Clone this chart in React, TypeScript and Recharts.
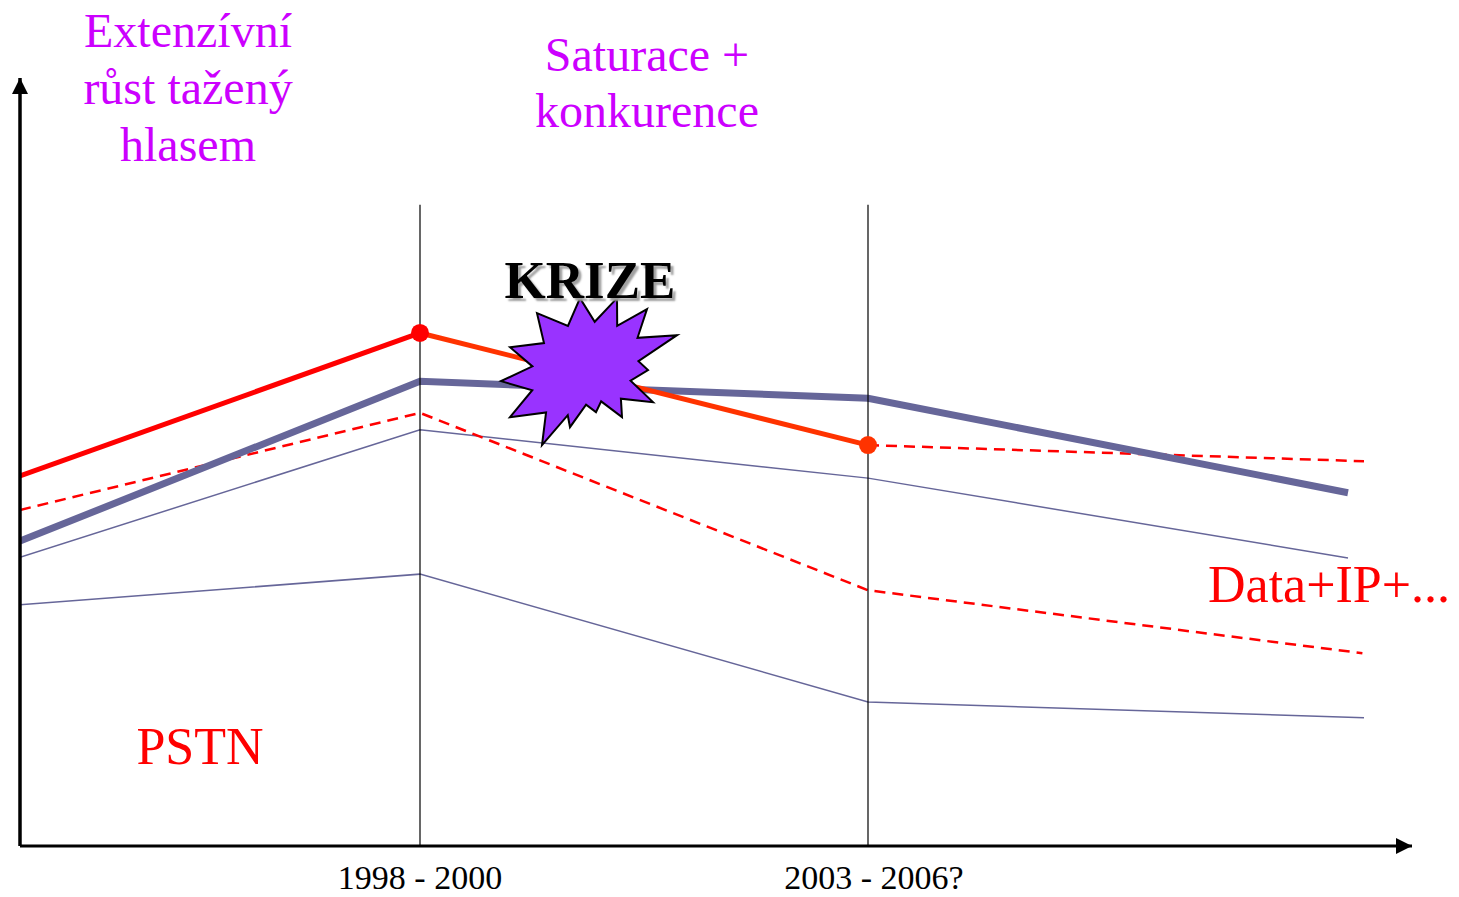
import React from "react";
import { LineChart, Line, XAxis, YAxis, ReferenceLine, ReferenceDot } from "recharts";

// x = rough year position, y = relative index (0..100)
const tickYears = [1999, 2004.6];
const tickLabels = ["1998 - 2000", "2003 - 2006?"];

const pstnRiseX = [1994, 1999];
const pstnRise = [48.2, 66.8];
const pstnFallX = [1999, 2004.6];
const pstnFall = [66.8, 52.2];
const pstnOutlookX = [2004.6, 2010.8];
const pstnOutlook = [52.2, 50.1];
const dataLowX = [1994, 1999, 2004.6, 2010.78];
const dataLow = [43.75, 56.4, 33.3, 25.1];
const totalX = [1994, 1999, 2004.6, 2010.6];
const total = [39.7, 60.5, 58.3, 46.0];
const upperX = [1994, 1999, 2004.6, 2010.6];
const upper = [37.6, 54.2, 47.9, 37.5];
const lowerX = [1994, 1999, 2004.6, 2010.8];
const lower = [31.4, 35.4, 18.75, 16.7];

const crisis = { x: 2001.1, y: 61.7 };

const zip = (xs: number[], ys: number[]) => xs.map((x, i) => ({ x, y: ys[i] }));

const FONT = "'Liberation Serif', 'Times New Roman', serif";
const MAGENTA = "#cc00ff";

// star tips relative to its centre
const starTips = [
  [-51, -59], [-8, -74], [29, -74], [59, -63], [89, -37], [60, -2], [65, 30],
  [34, 45], [8, 40], [-18, 55], [-46, 73], [-78, 45], [-87, 9], [-78, -25],
];

const Star = (props: any) => {
  const { cx, cy } = props;
  const pts: string[] = [];
  starTips.forEach((t, i) => {
    const n = starTips[(i + 1) % starTips.length];
    pts.push(`${cx + t[0]},${cy + t[1]}`);
    const a1 = Math.atan2(t[1], t[0]);
    let a2 = Math.atan2(n[1], n[0]);
    if (a2 < a1) a2 += Math.PI * 2;
    const am = (a1 + a2) / 2;
    const r = 0.66 * (Math.hypot(t[0], t[1]) + Math.hypot(n[0], n[1])) / 2;
    pts.push(`${cx + r * Math.cos(am)},${cy + r * Math.sin(am)}`);
  });
  return <polygon points={pts.join(" ")} fill="#9933ff" stroke="#000" strokeWidth={2} strokeLinejoin="miter" />;
};

const ArrowUp = (props: any) => {
  const { cx, cy } = props;
  return <polygon points={`${cx},${cy} ${cx - 8},${cy + 16} ${cx + 8},${cy + 16}`} fill="#000" />;
};

const ArrowRight = (props: any) => {
  const { cx, cy } = props;
  return <polygon points={`${cx},${cy} ${cx - 16},${cy - 8} ${cx - 16},${cy + 8}`} fill="#000" />;
};

const PeriodTick = (props: any) => {
  const { x, y, payload } = props;
  const label = tickLabels[tickYears.indexOf(payload.value)];
  const shift = label.endsWith("?") ? 6 : 0;
  return (
    <text x={x + shift} y={y + 29} textAnchor="middle" fill="#000" fontSize={34} fontFamily={FONT}>
      {label}
    </text>
  );
};

const centered = (left: number, top: number, size: number, color: string, extra = {}) => ({
  position: "absolute" as const,
  left: left - 250,
  top,
  width: 500,
  textAlign: "center" as const,
  fontSize: size,
  color,
  lineHeight: "57px",
  fontFamily: FONT,
  ...extra,
});

export default function App() {
  return (
    <div
      style={{
        position: "absolute",
        left: 0,
        top: 0,
        width: 1459,
        height: 897,
        background: "#fff",
        fontFamily: FONT,
      }}
    >
      <LineChart width={1459} height={897} margin={{ top: 78, right: 47, bottom: 1, left: 19 }}>
        <XAxis
          type="number"
          dataKey="x"
          domain={[1994, 2011.4]}
          allowDataOverflow
          ticks={tickYears}
          interval={0}
          axisLine={{ stroke: "#000", strokeWidth: 3 }}
          tickLine={false}
          tickMargin={8}
          height={50}
          tick={<PeriodTick />}
        />
        <YAxis
          type="number"
          domain={[0, 100]}
          width={1}
          tick={false}
          tickLine={false}
          axisLine={{ stroke: "#000", strokeWidth: 3.5 }}
        />
        <Line data={zip(upperX, upper)} dataKey="y" stroke="#666699" strokeWidth={1.5} dot={false} activeDot={false} isAnimationActive={false} />
        <Line data={zip(lowerX, lower)} dataKey="y" stroke="#666699" strokeWidth={1.5} dot={false} activeDot={false} isAnimationActive={false} />
        <Line data={zip(dataLowX, dataLow)} dataKey="y" stroke="#ff0000" strokeWidth={2.5} strokeDasharray="11 7" dot={false} activeDot={false} isAnimationActive={false} />
        <Line data={zip(pstnOutlookX, pstnOutlook)} dataKey="y" stroke="#ff0000" strokeWidth={2.5} strokeDasharray="11 7" dot={false} activeDot={false} isAnimationActive={false} />
        <Line data={zip(totalX, total)} dataKey="y" stroke="#666699" strokeWidth={7} dot={false} activeDot={false} isAnimationActive={false} />
        <Line data={zip(pstnRiseX, pstnRise)} dataKey="y" stroke="#ff0000" strokeWidth={5} dot={false} activeDot={false} isAnimationActive={false} />
        <Line data={zip(pstnFallX, pstnFall)} dataKey="y" stroke="#ff3300" strokeWidth={5} dot={false} activeDot={false} isAnimationActive={false} />
        <ReferenceDot x={pstnFallX[0]} y={pstnFall[0]} r={9} fill="#ff0000" stroke="none" />
        <ReferenceDot x={pstnFallX[1]} y={pstnFall[1]} r={9} fill="#ff3300" stroke="none" />
        <ReferenceLine segment={[{ x: tickYears[0], y: 0 }, { x: tickYears[0], y: 83.5 }]} stroke="#000" strokeWidth={1.2} />
        <ReferenceLine segment={[{ x: tickYears[1], y: 0 }, { x: tickYears[1], y: 83.5 }]} stroke="#000" strokeWidth={1.2} />
        <ReferenceDot x={crisis.x} y={crisis.y} r={1} shape={Star} />
        <ReferenceDot x={1994} y={100} r={1} shape={ArrowUp} />
        <ReferenceDot x={2011.4} y={0} r={1} shape={ArrowRight} />
      </LineChart>

      <div style={centered(188, 2, 48, MAGENTA)}>
        Extenzívní
        <br />
        růst tažený
        <br />
        hlasem
      </div>
      <div style={centered(647, 27, 48, MAGENTA, { lineHeight: "56px" })}>
        Saturace +
        <br />
        konkurence
      </div>
      <div
        style={centered(590, 254, 53, "#000", {
          lineHeight: 1,
          fontWeight: "bold",
          textShadow: "3px 3px 2px #a0a0a0",
        })}
      >
        KRIZE
      </div>
      <div style={centered(200, 721, 52, "#ff0000", { lineHeight: 1 })}>PSTN</div>
      <div
        style={{
          position: "absolute",
          left: 1208,
          top: 559,
          fontSize: 52,
          lineHeight: 1,
          color: "#ff0000",
          fontFamily: FONT,
          whiteSpace: "nowrap",
        }}
      >
        Data+IP+...
      </div>
    </div>
  );
}
